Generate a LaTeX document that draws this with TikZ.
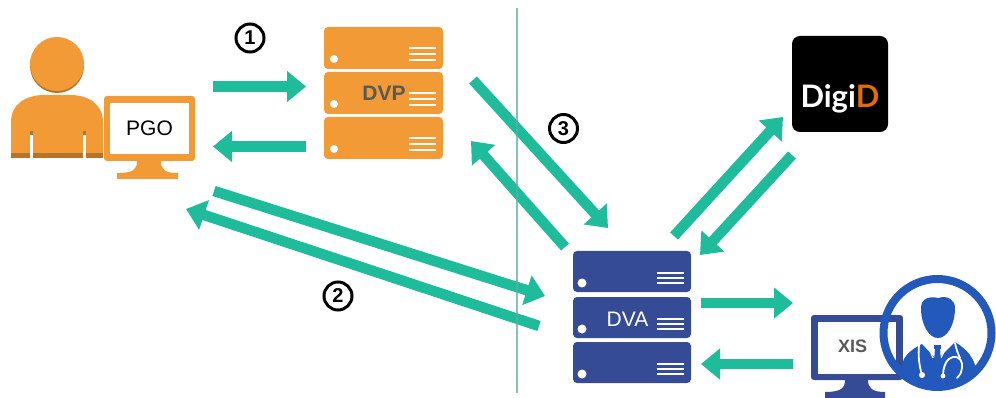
\documentclass[tikz,border=0pt]{standalone}
\usepackage{fontspec}
\setmainfont{Liberation Sans}
\newfontfamily\digidfont{Lato}
\usetikzlibrary{arrows.meta}
\definecolor{orangeicon}{HTML}{F29A36}
\definecolor{orangedark}{HTML}{B5742C}
\definecolor{blueicon}{HTML}{364B96}
\definecolor{bluedoctor}{HTML}{2259BA}
\definecolor{flowgreen}{HTML}{1FBC9C}
\definecolor{greytext}{HTML}{595959}
\definecolor{digidorange}{HTML}{E36C00}
\definecolor{linegreen}{HTML}{5FAE9E}
\tikzset{
	flow/.style={-{Triangle[length=19pt,width=30pt]}, line width=10.5pt, draw=flowgreen},
	number/.style={circle, draw=black, line width=3pt, fill=white, inner sep=0pt, minimum size=28pt, font=\fontsize{20}{20}\selectfont\bfseries},
	label/.style={inner sep=0pt, font=\fontsize{21}{21}\selectfont},
	slot/.style={white, line width=2.8pt},
	stetho/.style={white, line width=1.8pt, line cap=round}
}
\begin{document}
\begin{tikzpicture}[x=1pt, y=-1pt]
		\useasboundingbox (0,0) rectangle (996,398);

		\fill[orangedark] (57,66) circle[radius=27];
		\fill[orangeicon] (57,64) circle[radius=27];
		\fill[orangeicon] (11,158)--(11,122) .. controls (11,104) and (26,95) .. (44,95)--(70,95) .. controls (88,95) and (103,104) .. (103,122)--(103,158)--cycle;
		\fill[orangedark] (11,153) rectangle (103,158);
		\fill[orangedark] (30,131) rectangle (33,135);
		\fill[orangedark] (83,131) rectangle (86,135);
		\fill[white] (30,135) rectangle (33,158);
		\fill[white] (83,135) rectangle (86,158);

		\fill[orangeicon, rounded corners=3pt] (104,96) rectangle (195,161);
		\fill[orangeicon] (137,161)--(161,161) .. controls (161,170) and (165,173) .. (178,173)--(178,179)--(117,179)--(117,173) .. controls (133,173) and (137,170) .. (137,161)--cycle;
		\fill[white] (110,103) rectangle (189,154);
		\node[label] (pgo) at (149.5,128) {PGO};

		\foreach \y in {27,72,117}{
			\fill[orangeicon, rounded corners=4pt] (324,\y) rectangle (443,\y+42);
			\fill[white] (334,\y+32) circle[radius=4];
			\foreach \s in {21,27,33}
				\draw[slot] (409,\y+\s)--(436,\y+\s);
		}
		\node[label, font=\fontsize{21}{21}\selectfont\bfseries, text=greytext] (dvp) at (384,93) {DVP};

		\foreach \y in {251,297,342}{
			\fill[blueicon, rounded corners=4pt] (573,\y) rectangle (691,\y+41);
			\fill[white] (582,\y+32) circle[radius=4.5];
			\foreach \s in {22,27,32}
				\draw[slot] (657,\y+\s)--(684,\y+\s);
		}
		\node[label, text=white] (dva) at (627.5,319) {DVA};

		\fill[black, rounded corners=8pt] (792,36) rectangle (888,132);
		\node[inner sep=0pt, text=white, font=\fontsize{31}{31}\selectfont\digidfont\bfseries] (digid) at (840,99) {Digi\textcolor{digidorange}{D}};

		\fill[blueicon, rounded corners=3pt] (811,315) rectangle (903,380);
		\fill[blueicon] (845,380)--(868,380) .. controls (868,388) and (872,392) .. (885,392)--(885,398)--(825,398)--(825,392) .. controls (841,392) and (845,388) .. (845,380)--cycle;
		\fill[white] (818,322) rectangle (896,374);
		\node[label, font=\fontsize{18}{18}\selectfont\bfseries, text=greytext] (xis) at (852.5,346) {XIS};

		\fill[white] (903,315) -- (960,300) -- (990,340) -- (960,385) -- (903,380) -- cycle;
		\fill[blueicon] (896,322) rectangle (903,374);
		\begin{scope}
			\clip (937.5,333) circle[radius=54];
			\fill[white] (903,300) rectangle (995,392);
			\fill[bluedoctor] (899,392)--(901,370) .. controls (902,358) and (908,351) .. (922,344)--(937,360)--(955,342) .. controls (968,350) and (974,358) .. (977,372)--(980,392)--cycle;
		\end{scope}
		\draw[white, line width=1.2pt] (927,344)--(933,358);
		\draw[white, line width=1.2pt] (948,343)--(941,358);
		\fill[bluedoctor] (934,345) rectangle (941,349);
		\fill[bluedoctor] (935,348)--(940,348)--(941,362)--(934,362)--cycle;
		\fill[bluedoctor] (921,308) .. controls (921,298) and (930,296) .. (938,298) .. controls (948,295) and (955,300) .. (955,308) .. controls (955,325) and (947,338) .. (938,338) .. controls (929,338) and (921,325) .. (921,308)--cycle;
		\draw[stetho] (919,345) .. controls (918,355) and (919,365) .. (922,375);
		\fill[white] (922,375) circle[radius=3];
		\draw[stetho] (955,343) .. controls (956,348) and (958,354) .. (960,358);
		\draw[stetho] (943,376) .. controls (943,366) and (947,358) .. (953,357) .. controls (960,356) and (963,362) .. (962,368) .. controls (961,373) and (960,376) .. (957,378);
		\fill[white] (943,376) circle[radius=2.4];
		\draw[bluedoctor, line width=8pt] (937.5,333) circle[radius=54];

		\coordinate (a1) at (213,86.5);
		\coordinate (b1) at (306,86.5);
		\coordinate (a2) at (306,146.5);
		\coordinate (b2) at (213,146.5);
		\coordinate (a3) at (214,191);
		\coordinate (b3) at (545,296);
		\coordinate (a4) at (539,326);
		\coordinate (b4) at (186,209);
		\coordinate (a5) at (473,80);
		\coordinate (b5) at (608,228);
		\coordinate (a6) at (565,247);
		\coordinate (b6) at (471,141);
		\coordinate (a7) at (674,236);
		\coordinate (b7) at (783,117);
		\coordinate (a8) at (792,155);
		\coordinate (b8) at (700,255);
		\coordinate (a9) at (701,303);
		\coordinate (b9) at (793,303);
		\coordinate (a10) at (793,364);
		\coordinate (b10) at (701,364);
		\foreach \i in {1,...,10}
			\draw[flow] (a\i)--(b\i);

		\coordinate (top) at (517,8);
		\coordinate (bottom) at (517,393);
		\draw[linegreen, line width=1.2pt, opacity=.75] (top)--(bottom);

		\node[number] (one) at (250,38) {1};
		\node[number] (two) at (338,296) {2};
		\node[number] (three) at (563.5,128.5) {3};
\end{tikzpicture}
\end{document}
